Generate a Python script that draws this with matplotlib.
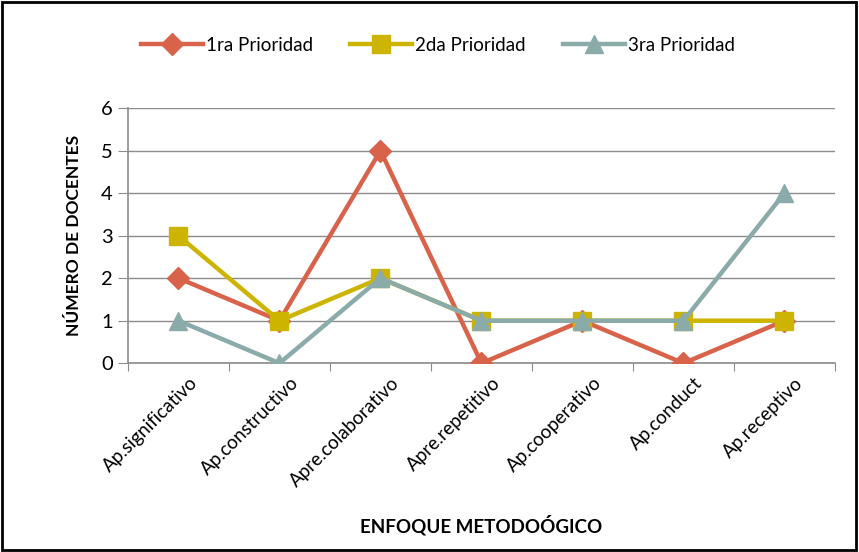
import matplotlib
matplotlib.use("Agg")
import matplotlib.pyplot as plt
from matplotlib.patches import Rectangle
from matplotlib.transforms import offset_copy

categories = ["Ap.significativo", "Ap.constructivo", "Apre.colaborativo", "Apre.repetitivo",
              "Ap.cooperativo", "Ap.conduct", "Ap.receptivo"]
prio1 = [2, 1, 5, 0, 1, 0, 1]
prio2 = [3, 1, 2, 1, 1, 1, 1]
prio3 = [1, 0, 2, 1, 1, 1, 4]
series_names = ["1ra Prioridad", "2da Prioridad", "3ra Prioridad"]
yticks = [0, 1, 2, 3, 4, 5, 6]

plt.rcParams['font.family'] = ['Lato', 'DejaVu Sans']

fig = plt.figure(figsize=(8.59, 5.52), dpi=100)
ax = fig.add_axes([0.149, 0.342, 0.823, 0.462])

x = list(range(len(categories)))
ax.plot(x, prio1, color='#D8634A', lw=3.2, marker='D', ms=11, label=series_names[0], zorder=3)
ax.plot(x, prio2, color='#CDB400', lw=3.2, marker='s', ms=13, label=series_names[1], zorder=3)
ax.plot(x, prio3, color='#8AABA9', lw=3.2, marker='^', ms=13, label=series_names[2], zorder=4)

ax.set_xlim(-0.5, len(categories) - 0.5)
ax.set_ylim(0, 6)
ax.set_yticks(yticks)
ax.yaxis.grid(True, color='#8c8c8c', lw=1)
ax.set_axisbelow(True)
for s in ['top', 'right']:
    ax.spines[s].set_visible(False)
for s in ['left', 'bottom']:
    ax.spines[s].set_color('#8c8c8c')
    ax.spines[s].set_linewidth(1.2)

ax.set_xticks([i - 0.5 for i in range(len(categories) + 1)])
ax.set_xticklabels([])
ax.set_xticks(x, minor=True)
ax.set_xticklabels(categories, minor=True, rotation=45, ha='right', rotation_mode='anchor', fontsize=13.5)
ax.tick_params(axis='x', which='minor', length=0, pad=8)
ax.tick_params(axis='x', which='major', length=6, color='#8c8c8c', direction='out')
ax.tick_params(axis='y', length=7, color='#8c8c8c', labelsize=14.5, pad=4)
for lbl in ax.get_xticklabels(minor=True):
    lbl.set_transform(offset_copy(lbl.get_transform(), fig=fig, x=10, y=0, units='dots'))

ax.set_ylabel("NÚMERO DE DOCENTES", fontsize=12.5, fontweight='bold', labelpad=14)
ax.set_xlabel("ENFOQUE METODOÓGICO", fontsize=13.5, fontweight='bold', labelpad=18)

leg = fig.legend(loc='center', bbox_to_anchor=(0.51, 0.918), ncol=3, frameon=False,
                 fontsize=13.5, handlelength=3.3, columnspacing=2.0, handletextpad=0.15)

fig.patches.append(Rectangle((0.002, 0.003), 0.995, 0.993, transform=fig.transFigure,
                             fill=False, edgecolor='black', lw=2))

fig.savefig("out.png", dpi=100)
